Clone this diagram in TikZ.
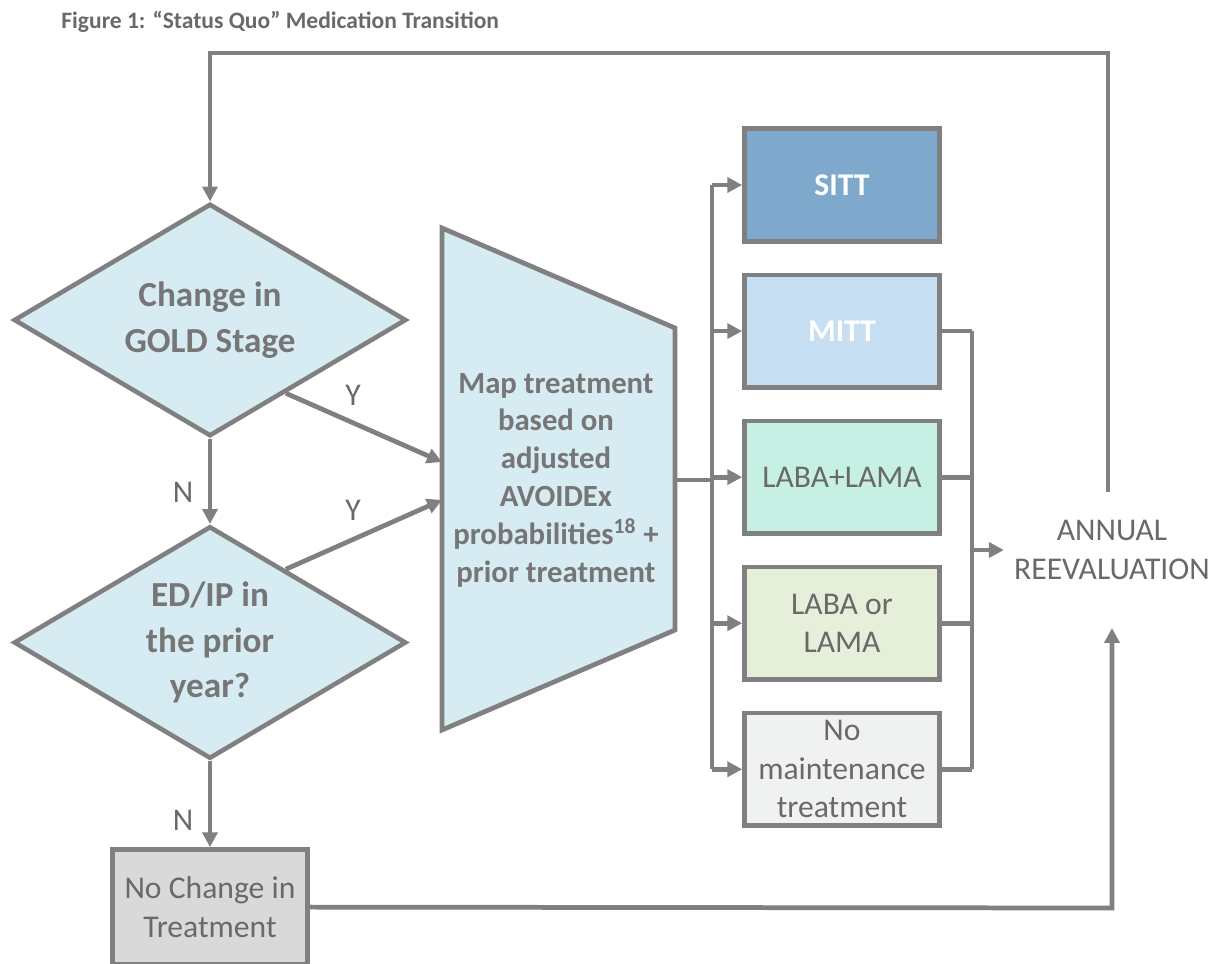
\documentclass[tikz,border=0pt]{standalone}
\usepackage{fontspec}
\setmainfont{Carlito}
\usepackage{tikz}
\usetikzlibrary{shapes, arrows.meta, positioning}

\definecolor{linegray}{RGB}{128,128,128}
\definecolor{textgray}{RGB}{118,118,118}
\definecolor{darkgray}{RGB}{105,105,105}
\definecolor{decfill}{RGB}{214,235,242}
\definecolor{sittfill}{RGB}{127,169,204}
\definecolor{mittfill}{RGB}{198,223,242}
\definecolor{dualfill}{RGB}{198,240,227}
\definecolor{monofill}{RGB}{230,239,217}
\definecolor{nonefill}{RGB}{240,241,241}
\definecolor{keepfill}{RGB}{217,217,217}

\tikzstyle{decision} = [diamond, aspect=1.69, draw=linegray, line width=2.6pt, fill=decfill, inner sep=0,
                        minimum width=7.85cm, minimum height=4.65cm, text=textgray, align=center,
                        font=\bfseries\fontsize{20}{26}\selectfont]
\tikzstyle{treat} = [rectangle, draw=linegray, line width=2.6pt, minimum width=3.9cm, minimum height=2.25cm,
                     text=darkgray, align=center, font=\fontsize{18}{22}\selectfont]
\tikzstyle{wire} = [draw=linegray, line width=2.7pt]
\tikzstyle{flow} = [wire, -{Triangle[length=8.5pt,width=8.5pt]}]
\tikzstyle{yn} = [text=darkgray, font=\fontsize{18}{22}\selectfont]

\begin{document}
\begin{tikzpicture}
				\useasboundingbox (0, 0) rectangle (24.5, -19.28);

				\node (Title) [anchor=west, inner sep=0, text=darkgray, font=\bfseries\fontsize{13.4}{15}\selectfont]
					at (1.22, -0.44) {Figure 1: “Status Quo” Medication Transition};

				% decisions
				\node (ChangeGOLD) [decision] at (4.2, -6.4) {Change in\\GOLD Stage};
				\node (EDIP) [decision] at (4.2, -12.85) {ED/IP in\\the prior\\year?};
				\draw[flow] (ChangeGOLD) -- (EDIP);
				\node (NoA) [yn] at (3.66, -9.84) {N};

				\node (NoChange) [treat, fill=keepfill, minimum height=2.3cm] at (4.2, -18.14) {No Change in\\Treatment};
				\draw[flow] (EDIP) -- (NoChange);
				\node (NoB) [yn] at (3.66, -16.4) {N};

				% mapping
				\coordinate (MapTL) at (8.84, -4.56);
				\coordinate (MapTR) at (13.5, -6.56);
				\coordinate (MapBR) at (13.5, -12.6);
				\coordinate (MapBL) at (8.84, -14.6);
				\draw[wire, fill=decfill] (MapTL) -- (MapTR) -- (MapBR) -- (MapBL) -- cycle;
				\node (Map) [text=textgray, align=center, font=\bfseries\fontsize{17.5}{21.5}\selectfont] at (11.12, -9.6)
					{Map treatment\\based on\\adjusted\\AVOIDEx\\probabilities\textsuperscript{18} +\\prior treatment};

				\coordinate (MapInA) at (8.84, -9.24);
				\coordinate (MapInB) at (8.84, -10.0);
				\draw[flow] (ChangeGOLD.-44) -- (MapInA);
				\draw[flow] (EDIP.44) -- (MapInB);
				\node (YesA) [yn] at (7.06, -7.9) {Y};
				\node (YesB) [yn] at (7.06, -10.2) {Y};

				% treatments
				\node (SITT) [treat, fill=sittfill, text=white, font=\bfseries\fontsize{18}{22}\selectfont] at (16.84, -3.7) {SITT};
				\node (MITT) [treat, fill=mittfill, text=white, font=\bfseries\fontsize{18}{22}\selectfont, below=0.58cm of SITT] {MITT};
				\node (Dual) [treat, fill=dualfill, below=0.58cm of MITT] {LABA+LAMA};
				\node (Mono) [treat, fill=monofill, below=0.58cm of Dual] {LABA or\\LAMA};
				\node (NoMaint) [treat, fill=nonefill, below=0.58cm of Mono] {No\\maintenance\\treatment};

				\coordinate (MapOut) at (13.5, -9.6);
				\coordinate (Split) at (14.24, -9.6);
				\draw[wire] (MapOut) -- (Split);
				\draw[wire] (Split |- SITT) -- (Split |- NoMaint);
				\foreach \t in {SITT, MITT, Dual, Mono, NoMaint}
					\draw[flow] (Split |- \t) -- (\t);

				% reevaluation
				\node (Annual) [text=darkgray, align=center, inner xsep=0.2cm, font=\fontsize{18}{22}\selectfont]
					at (22.24, -11.0) {ANNUAL\\REEVALUATION};
				\coordinate (Join) at (19.44, -11.0);
				\draw[wire] (Join |- MITT) -- (Join |- NoMaint);
				\foreach \t in {MITT, Dual, Mono, NoMaint}
					\draw[wire] (\t) -- (Join |- \t);
				\draw[flow] (Join) -- (Annual);

				\coordinate (LoopStart) at (22.16, -9.84);
				\coordinate (LoopTR) at (22.16, -1.06);
				\coordinate (LoopTL) at (4.2, -1.06);
				\draw[flow] (LoopStart) -- (LoopTR) -- (LoopTL) -- (ChangeGOLD);

				\coordinate (BackUp) at (22.24, -18.16);
				\coordinate (AnnualBot) at (22.24, -12.56);
				\draw[flow] (NoChange) -- (BackUp) -- (AnnualBot);
			\end{tikzpicture}
\end{document}
